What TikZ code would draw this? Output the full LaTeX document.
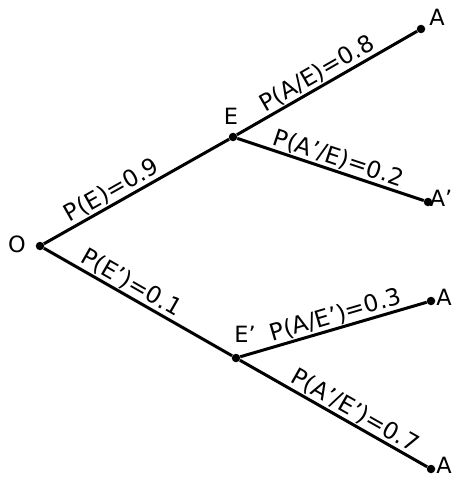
\documentclass[tikz,border=0pt]{standalone}
\usepackage{fontspec}
\setmainfont{DejaVu Sans}
\newcommand{\pr}{{\char"27}}
\begin{document}
\begin{tikzpicture}[x=1bp,y=-1bp,
  dot/.style={circle,fill=black,inner sep=0pt,minimum size=8.5bp},
  branch/.style={line width=3bp},
  lbl/.style={font=\fontsize{22.5}{22.5}\selectfont,inner sep=0pt},
  elbl/.style={font=\fontsize{23.5}{23.5}\selectfont,sloped,above,inner sep=1pt}]
\useasboundingbox (0,0) rectangle (452,478);
\node[dot] (O) at (40,246) {};
\node[dot] (E) at (233,137) {};
\node[dot] (A1) at (421,29) {};
\node[dot] (A2) at (428,202) {};
\node[dot] (Ep) at (236,358) {};
\node[dot] (A3) at (431,301) {};
\node[dot] (A4) at (431,469) {};
\node[lbl] (lO) at (17,244) {O};
\node[lbl] (lE) at (231,116) {E};
\node[lbl] (lA1) at (437,17) {A};
\node[lbl] (lA2) at (441,198) {A\pr};
\node[lbl] (lEp) at (245,334) {E\pr};
\node[lbl] (lA3) at (444,297) {A};
\node[lbl] (lA4) at (444,465) {A};
\draw[branch] (O) -- node[elbl,pos=0.40] (t1) {P(E)=0.9} (E);
\draw[branch] (O) -- node[elbl,pos=0.43] (t2) {P(E\pr)=0.1} (Ep);
\draw[branch] (E) -- node[elbl,pos=0.48] (t3) {P(A/E)=0.8} (A1);
\draw[branch] (E) -- node[elbl,pos=0.52] (t4) {P(A\pr/E)=0.2} (A2);
\draw[branch] (Ep) -- node[elbl,pos=0.53] (t5) {P(A/E\pr)=0.3} (A3);
\draw[branch] (Ep) -- node[elbl,pos=0.58] (t6) {P(A\pr/E\pr)=0.7} (A4);
\end{tikzpicture}
\end{document}
